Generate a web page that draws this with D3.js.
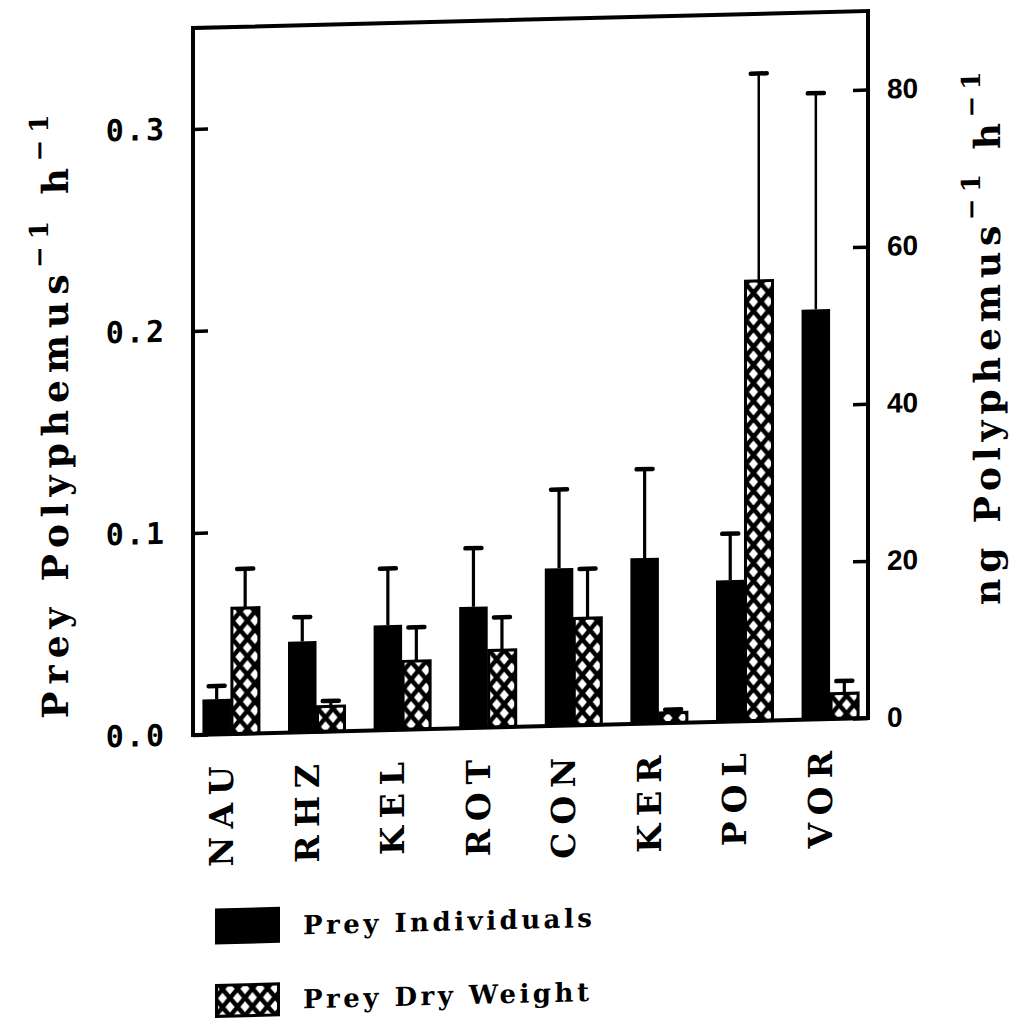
<!DOCTYPE html>
<html>
<head>
<meta charset="utf-8">
<script src="https://cdn.jsdelivr.net/npm/d3@7"></script>
<style>
  body{margin:0;background:#fff;}
  svg{display:block;}
</style>
</head>
<body>
<div id="chart"></div>
<script>
// data
const categories=["NAU","RHZ","KEL","ROT","CON","KER","POL","VOR"];
// prey individuals per Polyphemus per hour (left axis), mean and upper error
const individuals=[0.0175,0.045,0.052,0.060,0.078,0.082,0.070,0.203];
const individualsErr=[0.0065,0.012,0.028,0.029,0.039,0.044,0.023,0.107];
// prey dry weight, ng per Polyphemus per hour (right axis)
const dryWeight=[16.0,3.2,8.7,9.8,13.6,1.3,56.0,3.2];
const dryWeightErr=[5.0,0.7,4.3,4.2,6.3,0.4,26.4,1.6];
const leftTicks=[0,0.1,0.2,0.3];
const rightTicks=[0,20,40,60,80];
const legendLabels=["Prey Individuals","Prey Dry Weight"];

const width=1012, height=1024;
const margin={top:28,right:144,bottom:289,left:193};
const plotW=width-margin.left-margin.right;
const plotH=height-margin.top-margin.bottom;

const serif="'DejaVu Serif', serif";

const svg=d3.select("#chart").append("svg")
  .attr("width",width)
  .attr("height",height);

// crosshatch fill
const defs=svg.append("defs");
const pat=defs.append("pattern")
  .attr("id","xhatch")
  .attr("patternUnits","userSpaceOnUse")
  .attr("width",15)
  .attr("height",18);
pat.append("rect").attr("width",15).attr("height",18).attr("fill","#fff");
pat.append("path")
  .attr("d","M0,0L15,18M-15,0L0,18M15,0L30,18M15,0L0,18M0,0L-15,18M30,0L15,18")
  .attr("stroke","#000")
  .attr("stroke-width",4.5)
  .attr("fill","none");

// the scanned original is slightly sheared, copy that
const root=svg.append("g")
  .attr("transform","translate("+margin.left+",0) skewY(-1.44) translate("+(-margin.left)+",0)");

const g=root.append("g")
  .attr("transform","translate("+margin.left+","+margin.top+")");

const x0=d3.scaleBand()
  .domain(categories)
  .range([0,plotW])
  .paddingInner(0.334)
  .paddingOuter(0.11);
const x1=d3.scaleBand()
  .domain(["ind","dw"])
  .range([0,x0.bandwidth()]);

const yL=d3.scaleLinear().domain([0,0.35]).range([plotH,0]);
const yR=d3.scaleLinear().domain([0,90]).range([plotH,0]);

const rows=categories.map((c,i)=>({
  cat:c,
  ind:individuals[i],
  indErr:individualsErr[i],
  dw:dryWeight[i],
  dwErr:dryWeightErr[i]
}));

// error bars first, bars go over the stem base
const err=g.append("g").attr("class","errors");
function errorBar(cx,yTop,yCap,thin){
  err.append("line")
    .attr("x1",cx).attr("x2",cx)
    .attr("y1",yTop).attr("y2",yCap)
    .attr("stroke","#000")
    .attr("stroke-width",thin?2.5:3.2);
  err.append("line")
    .attr("x1",cx-8).attr("x2",cx+8)
    .attr("y1",yCap).attr("y2",yCap)
    .attr("stroke","#000")
    .attr("stroke-width",4.5)
    .attr("stroke-linecap","round");
}
rows.forEach(d=>{
  const cxI=x0(d.cat)+x1("ind")+x1.bandwidth()/2;
  const cxD=x0(d.cat)+x1("dw")+x1.bandwidth()/2;
  errorBar(cxI,yL(d.ind),yL(d.ind+d.indErr),d.indErr>0.08);
  errorBar(cxD,yR(d.dw),yR(d.dw+d.dwErr),d.dwErr>20);
});

const groups=g.append("g").selectAll("g")
  .data(rows)
  .enter().append("g")
  .attr("transform",d=>"translate("+x0(d.cat)+",0)");

groups.append("rect")
  .attr("x",x1("ind"))
  .attr("y",d=>yL(d.ind))
  .attr("width",x1.bandwidth())
  .attr("height",d=>yL(0)-yL(d.ind))
  .attr("fill","#000");

groups.append("rect")
  .attr("x",x1("dw")+1)
  .attr("y",d=>yR(d.dw))
  .attr("width",x1.bandwidth()-1.5)
  .attr("height",d=>yR(0)-yR(d.dw))
  .attr("fill","url(#xhatch)")
  .attr("stroke","#000")
  .attr("stroke-width",3);

// frame
g.append("rect")
  .attr("x",0).attr("y",0)
  .attr("width",plotW).attr("height",plotH)
  .attr("fill","none")
  .attr("stroke","#000")
  .attr("stroke-width",4);

// left axis, ticks point inward
const leftAxis=g.append("g")
  .call(d3.axisLeft(yL)
    .tickValues(leftTicks)
    .tickSize(-15)
    .tickPadding(27)
    .tickFormat(d3.format(".1f")));
leftAxis.select(".domain").remove();
leftAxis.selectAll("line").attr("stroke-width",3.5);
leftAxis.selectAll("text")
  .attr("font-family","'DejaVu Sans Mono', monospace")
  .attr("font-weight","bold")
  .attr("font-size",30)
  .attr("letter-spacing",2)
  .attr("fill","#000");

const rightAxis=g.append("g")
  .attr("transform","translate("+plotW+",0)")
  .call(d3.axisRight(yR)
    .tickValues(rightTicks)
    .tickSize(-15)
    .tickPadding(19));
rightAxis.select(".domain").remove();
rightAxis.selectAll("line").attr("stroke-width",3.5);
rightAxis.selectAll("text")
  .attr("font-family","'Liberation Sans', Arial, sans-serif")
  .attr("font-weight","bold")
  .attr("font-size",28)
  .attr("fill","#000");

// category labels, rotated
g.append("g").selectAll("text")
  .data(categories)
  .enter().append("text")
  .attr("transform",d=>"translate("+(x0(d)+x0.bandwidth()/2+2)+","+(plotH+24)+") rotate(-90)")
  .attr("text-anchor","end")
  .attr("font-family",serif)
  .attr("font-weight","bold")
  .attr("font-size",33)
  .attr("letter-spacing",8)
  .text(d=>d);

// axis titles with superscripts
function axisTitle(x,y,main,ls){
  const t=root.append("text")
    .attr("transform","translate("+x+","+y+") rotate(-90)")
    .attr("font-family",serif)
    .attr("font-weight","bold")
    .attr("font-size",36)
    .attr("letter-spacing",ls);
  t.append("tspan").text(main);
  t.append("tspan").attr("dy",-20).attr("font-size",26).text("\u22121");
  t.append("tspan").attr("dy",20).text(" h");
  t.append("tspan").attr("dy",-20).attr("font-size",26).text("\u22121");
}
axisTitle(68,715,"Prey Polyphemus",7);
axisTitle(1000,625,"ng Polyphemus",6);

// legend
const legend=root.append("g").attr("transform","translate(215,909)");
legend.append("rect")
  .attr("x",0).attr("y",0).attr("width",65).attr("height",36)
  .attr("fill","#000");
legend.append("rect")
  .attr("x",1.5).attr("y",77).attr("width",62).attr("height",31)
  .attr("fill","url(#xhatch)")
  .attr("stroke","#000")
  .attr("stroke-width",3);
legend.selectAll("text.lab")
  .data(legendLabels)
  .enter().append("text")
  .attr("class","lab")
  .attr("x",88)
  .attr("y",(d,i)=>28+i*74)
  .attr("font-family",serif)
  .attr("font-weight","bold")
  .attr("font-size",26)
  .attr("letter-spacing",3.5)
  .text(d=>d);
</script>
</body>
</html>
